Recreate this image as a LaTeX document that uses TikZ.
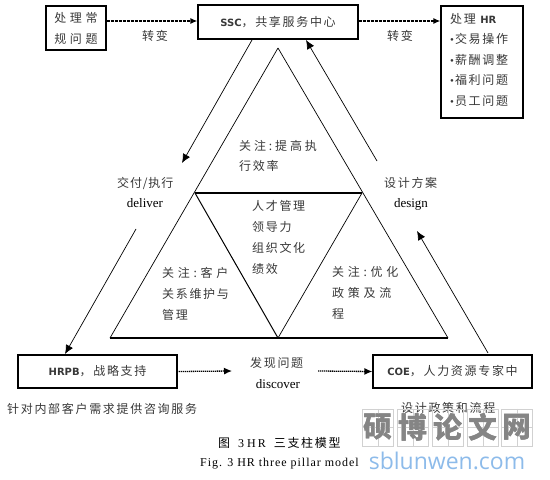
\documentclass[tikz,border=0pt]{standalone}
\usepackage{fontspec}
\usetikzlibrary{arrows.meta}
\setmainfont{Liberation Serif}
\newfontfamily\cja[LetterSpace=31]{Noto Sans CJK SC}
\newfontfamily\cjb[LetterSpace=14]{Noto Sans CJK SC}
\newfontfamily\cjd[LetterSpace=24]{Noto Sans CJK SC}
\newfontfamily\cje[LetterSpace=7]{Noto Sans CJK SC}
\newfontfamily\cjc{Noto Sans CJK SC}
\newfontfamily\lsans{DejaVu Sans}
\newfontfamily\wurl{Open Sans}
\newfontfamily\rmsp[LetterSpace=8]{Liberation Serif}
\newcommand{\sz}[2]{\fontsize{#1bp}{#2bp}\selectfont}
\newcommand{\sn}[1]{{\lsans\bfseries\sz{10}{10}#1}}
\newcommand{\bl}{{\rmfamily\sz{11}{11}•\hspace{1bp}}}
\definecolor{tx}{gray}{0.22}
\definecolor{wm}{gray}{0.52}
\definecolor{wmline}{gray}{0.82}
\definecolor{url}{HTML}{8DBBEA}
\tikzset{
 lbl/.style={anchor=west,inner sep=0pt,text=tx,font=\cja\sz{12}{21},align=left},
 lblb/.style={lbl,font=\cjb\sz{12}{21}},
 eng/.style={inner sep=0pt,text=black,font=\rmfamily\sz{13}{13}},
 box/.style={draw=black,line width=1.2bp,inner sep=0pt,text=tx,font=\cjb\sz{12}{21},align=center},
 tri/.style={draw=black,line width=.7bp},
 solidarrow/.style={draw=black,line width=.7bp,-{Latex[length=9bp,width=8bp]}},
 dasharrow/.style={draw=black,line width=1.3bp,dash pattern=on 3bp off 1bp,-{Latex[length=7bp,width=6bp]}},
 dotarrow/.style={draw=black,line width=1.3bp,dash pattern=on 1.3bp off .7bp,-{Latex[length=8bp,width=7bp]}},
 wmbox/.style={draw=wmline,line width=.6bp,minimum width=31bp,minimum height=37bp,inner sep=0pt,text=wm,font=\cjc\bfseries\sz{29}{29}},
}
\begin{document}
\begin{tikzpicture}[x=1bp,y=-1bp]
\useasboundingbox (0,0) rectangle (550,480);
% boxes
\node[box,font=\cja\sz{12}{21},minimum width=60bp,minimum height=44bp] (issue) at (76,28) {处理常\\规问题};
\node[box,minimum width=160bp,minimum height=34bp] (ssc) at (278,22) {\sn{SSC}，共享服务中心};
\node[box,minimum width=82bp,minimum height=112bp] (hr) at (482,62) {};
\node[anchor=north west,inner sep=0pt,text=tx,font=\cjb\sz{12}{20.5},align=left] (hrtext) at (450,13) {处理 \sn{HR}\\\bl 交易操作\\\bl 薪酬调整\\\bl 福利问题\\\bl 员工问题};
\node[box,minimum width=159bp,minimum height=33bp] (hrpb) at (97.5,371.5) {\sn{HRPB}，战略支持};
\node[box,minimum width=159bp,minimum height=33bp] (coe) at (452.5,371.5) {\sn{COE}，人力资源专家中};
% triangles
\coordinate (apex) at (278,48);
\coordinate (bl) at (110,338);
\coordinate (br) at (448,338);
\coordinate (ml) at (195,193);
\coordinate (mr) at (362,193);
\coordinate (mb) at (278,338);
\draw[tri] (apex) -- (bl);
\draw[tri] (apex) -- (br);
\draw[draw=black,line width=1.5bp] (ml) -- (mr);
\draw[draw=black,line width=1.5bp] (bl) -- (br);
\draw[tri,line width=1bp] (ml) -- (mb);
\draw[tri] (mr) -- (mb);
% labels
\node[inner sep=0pt,text=tx,font=\cjb\sz{12}{12}] (t1) at (155,36) {转变};
\node[inner sep=0pt,text=tx,font=\cjb\sz{12}{12}] (t2) at (400,36) {转变};
\node[lbl,anchor=north west,font=\cjd\sz{12}{20}] (top) at (239,140) {关注:提高执\\{\cjb 行效率}};
\node[lblb,anchor=north west] (core) at (252,200) {人才管理\\领导力\\组织文化\\绩效};
\node[lblb,anchor=north west] (left) at (162,267) {{\cja 关注:客户}\\关系维护与\\管理};
\node[lbl,anchor=north west] (right) at (332,266) {关注:优化\\政策及流\\程};
\node[lbl,font=\cje\sz{12}{21}] (deliverzh) at (117,183) {交付/执行};
\node[eng] (deliveren) at (145,203) {deliver};
\node[lblb] (designzh) at (384,183) {设计方案};
\node[eng] (designen) at (411,204) {design};
\node[lblb] (discoverzh) at (250,363) {发现问题};
\node[eng] (discoveren) at (278,384) {discover};
\node[lblb] (hrpbnote) at (7,409) {针对内部客户需求提供咨询服务};
\node[lblb] (coenote) at (401,408) {设计政策和流程};
\node[lblb,text=black] (capzh) at (218,443) {图\hspace{8bp}{\rmfamily 3\hspace{3bp}H\hspace{2bp}R}\hspace{8bp}三支柱模型};
\node[inner sep=0pt,anchor=west,text=black,font=\rmsp\sz{12}{12}] (capen) at (200,464) {Fig. 3 HR three pillar model};
% connectors
\draw[dasharrow] (issue.east |- 0,21) -- (ssc.west |- 0,21);
\draw[dasharrow] (ssc.east |- 0,21) -- (hr.west |- 0,21);
\coordinate (a1s) at (252,40);
\coordinate (a1e) at (182,163);
\coordinate (a2s) at (136,229);
\coordinate (a2e) at (65,354);
\coordinate (a3s) at (377,161);
\coordinate (a3e) at (306,40);
\coordinate (a4s) at (488,353);
\coordinate (a4e) at (417,231);
\draw[solidarrow] (a1s) -- (a1e);
\draw[solidarrow] (a2s) -- (a2e);
\draw[solidarrow] (a3s) -- (a3e);
\draw[solidarrow] (a4s) -- (a4e);
\coordinate (d1e) at (232,371);
\coordinate (d2s) at (318,371);
\draw[dotarrow] (hrpb.east) ++(1,0) -- (d1e);
\draw[dotarrow] (d2s) -- (coe.west);
% watermark
\foreach \c/\i/\p in {硕/0/378,博/1/413,论/2/448,文/3/483,网/4/517}{
  \node[wmbox] (w\i) at (\p,427.5) {\c};
  \draw[wmline,line width=.4bp] (w\i.north) -- (w\i.south) (w\i.west) -- (w\i.east);
  \node[wmbox,draw=none] at (\p,427.5) {\c};
}
\node[inner sep=0pt,text=url,font=\wurl\sz{23}{23}] (site) at (447,461) {sblunwen.com};
\end{tikzpicture}
\end{document}
